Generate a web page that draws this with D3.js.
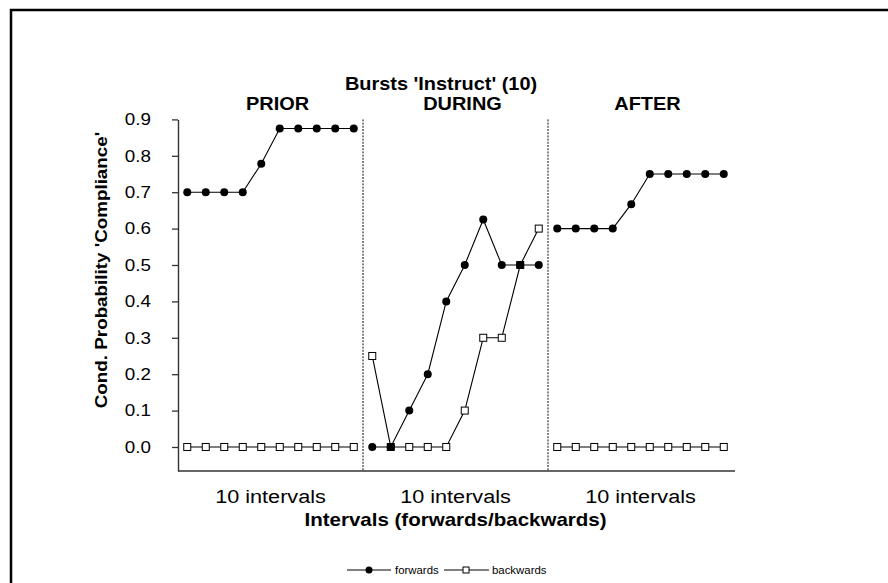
<!DOCTYPE html>
<html>
<head>
<meta charset="utf-8">
<script src="https://cdn.jsdelivr.net/npm/d3@7"></script>
<style>
  html, body { margin: 0; padding: 0; background: #fff; }
  svg { display: block; }
</style>
</head>
<body>
<svg id="chart" width="888" height="583"></svg>
<script>
// Conditional probability of compliance around 'Instruct' bursts
const title = "Bursts 'Instruct' (10)";
const phases = ["PRIOR", "DURING", "AFTER"];
const phaseAxisLabel = "10 intervals";
const xAxisTitle = "Intervals (forwards/backwards)";
const yAxisTitle = "Cond. Probability 'Compliance'";
const yTickValues = [0, 0.1, 0.2, 0.3, 0.4, 0.5, 0.6, 0.7, 0.8, 0.9];
const yTickLabels = ["0.0", "0.1", "0.2", "0.3", "0.4", "0.5", "0.6", "0.7", "0.8", "0.9"];
const seriesNames = ["forwards", "backwards"];

// one array of 10 intervals per phase
const forwardsPrior  = [0.7, 0.7, 0.7, 0.7, 0.778, 0.875, 0.875, 0.875, 0.875, 0.875];
const forwardsDuring = [0, 0, 0.1, 0.2, 0.4, 0.5, 0.625, 0.5, 0.5, 0.5];
const forwardsAfter  = [0.6, 0.6, 0.6, 0.6, 0.667, 0.75, 0.75, 0.75, 0.75, 0.75];
const backwardsPrior  = [0, 0, 0, 0, 0, 0, 0, 0, 0, 0];
const backwardsDuring = [0.25, 0, 0, 0, 0, 0.1, 0.3, 0.3, 0.5, 0.6];
const backwardsAfter  = [0, 0, 0, 0, 0, 0, 0, 0, 0, 0];

const forwards = [forwardsPrior, forwardsDuring, forwardsAfter];
const backwards = [backwardsPrior, backwardsDuring, backwardsAfter];
const perPhase = 10;

const FONT = "'Liberation Sans', Arial, Helvetica, sans-serif";
const SX = 1.14; // wide lettering

const svg = d3.select("#chart");

// outer frame (top and left edges)
svg.append("path")
  .attr("d", "M11,583V10H888")
  .attr("fill", "none")
  .attr("stroke", "#000")
  .attr("stroke-width", 2.5);

const x = d3.scaleLinear().domain([-0.5, phases.length * perPhase - 0.5]).range([178, 733]);
const y = d3.scaleLinear().domain([-0.066, 0.9]).range([471, 119.4]);

function label(text, px, py, size, weight, anchor, extra) {
  return svg.append("text")
    .attr("transform", `translate(${px},${py})${extra || ""} scale(${SX},1)`)
    .attr("text-anchor", anchor)
    .attr("font-family", FONT)
    .attr("font-size", size)
    .attr("font-weight", weight)
    .attr("fill", "#000")
    .text(text);
}

// y axis
const yAxis = svg.append("g")
  .attr("transform", `translate(${x.range()[0]},0)`)
  .call(d3.axisLeft(y)
    .tickValues(yTickValues)
    .tickFormat((d, i) => yTickLabels[i])
    .tickSizeInner(6)
    .tickSizeOuter(0)
    .tickPadding(22));
yAxis.select(".domain").attr("stroke", "#333").attr("stroke-width", 1.4);
yAxis.selectAll(".tick line").attr("stroke", "#333").attr("stroke-width", 1.3);
yAxis.selectAll(".tick text")
  .attr("x", null)
  .attr("transform", `translate(-27,0) scale(${SX},1)`)
  .attr("font-family", FONT)
  .attr("font-size", 16.5)
  .attr("fill", "#000");

// x axis (line only)
const xAxis = svg.append("g")
  .attr("transform", `translate(0,${y.range()[0]})`)
  .call(d3.axisBottom(x).tickValues([]).tickSizeOuter(0));
xAxis.select(".domain").attr("stroke", "#333").attr("stroke-width", 1.4)
  .attr("d", `M${x.range()[0]},0H${x.range()[1] + 2}`);

// phase dividers
for (let p = 1; p < phases.length; p++) {
  svg.append("line")
    .attr("x1", x(p * perPhase - 0.5)).attr("x2", x(p * perPhase - 0.5))
    .attr("y1", y(0.9)).attr("y2", y.range()[0])
    .attr("stroke", "#111")
    .attr("stroke-width", 1)
    .attr("stroke-dasharray", "2,1.2");
}

// headings
label(title, 441, 90, 17.5, "bold", "middle");
phases.forEach((name, p) => {
  const cx = x(p * perPhase + (perPhase - 1) / 2);
  label(name, cx + 7, 110, 17.5, "bold", "middle");
  label(phaseAxisLabel, cx, 503, 19, "normal", "middle");
});
label(xAxisTitle, x(((phases.length * perPhase) - 1) / 2), 526, 18, "bold", "middle");
label(yAxisTitle, 107, 270, 16.5, "bold", "middle", " rotate(-90)");

// series
const line = d3.line().x(d => x(d.i)).y(d => y(d.v));
const toPoints = (vals, p) => vals.map((v, k) => ({ i: p * perPhase + k, v }));

forwards.forEach((vals, p) => {
  svg.append("path")
    .attr("d", line(toPoints(vals, p)))
    .attr("fill", "none").attr("stroke", "#000").attr("stroke-width", 1.1);
});
backwards.forEach((vals, p) => {
  svg.append("path")
    .attr("d", line(toPoints(vals, p)))
    .attr("fill", "none").attr("stroke", "#000").attr("stroke-width", 1.1);
});

forwards.forEach((vals, p) => {
  svg.append("g").selectAll("circle")
    .data(toPoints(vals, p))
    .join("circle")
    .attr("cx", d => x(d.i)).attr("cy", d => y(d.v))
    .attr("r", 4).attr("fill", "#000");
});
const sq = 7;
backwards.forEach((vals, p) => {
  svg.append("g").selectAll("rect")
    .data(toPoints(vals, p).map((d, k) => ({ ...d, hit: forwards[p][k] === d.v })))
    .join("rect")
    .attr("x", d => x(d.i) - sq / 2).attr("y", d => y(d.v) - sq / 2)
    .attr("width", sq).attr("height", sq)
    .attr("fill", d => d.hit ? "#000" : "#fff")
    .attr("stroke", "#000").attr("stroke-width", 1);
});

// legend
const legendY = 570;
const legendItems = [
  { name: seriesNames[0], x0: 347, x1: 391, mx: 369, tx: 395, shape: "circle" },
  { name: seriesNames[1], x0: 444, x1: 489, mx: 466, tx: 492, shape: "square" }
];
legendItems.forEach(it => {
  svg.append("line")
    .attr("x1", it.x0).attr("x2", it.x1).attr("y1", legendY).attr("y2", legendY)
    .attr("stroke", "#000").attr("stroke-width", 1);
  if (it.shape === "circle") {
    svg.append("circle").attr("cx", it.mx).attr("cy", legendY).attr("r", 3.5).attr("fill", "#000");
  } else {
    svg.append("rect").attr("x", it.mx - 3).attr("y", legendY - 3)
      .attr("width", 6).attr("height", 6)
      .attr("fill", "#fff").attr("stroke", "#000").attr("stroke-width", 1);
  }
  label(it.name, it.tx, legendY + 3.5, 10, "normal", "start");
});
</script>
</body>
</html>
